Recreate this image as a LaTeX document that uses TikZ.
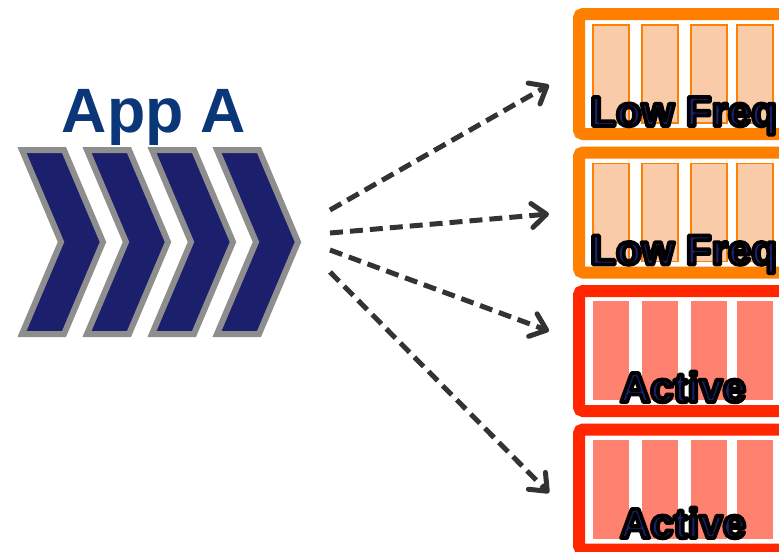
\documentclass[tikz,border=0pt]{standalone}
\usepackage{fontspec}
\setmainfont{Liberation Sans}
\usetikzlibrary{arrows.meta}

\definecolor{chevblue}{HTML}{1C1F6B}
\definecolor{chevgray}{HTML}{8E8E8E}
\definecolor{apptext}{HTML}{0B3778}
\definecolor{lowedge}{HTML}{FF7F00}
\definecolor{lowfill}{HTML}{F9CBA9}
\definecolor{activeedge}{HTML}{FF2600}
\definecolor{activefill}{HTML}{FF8170}
\definecolor{flowgray}{HTML}{333333}

\newcommand{\outlined}[1]{\special{pdf:literal direct 0 0 0 RG 2.8 w 1 j 2 Tr}#1\special{pdf:literal direct 0 Tr}}

\tikzset{
  chevron/.style={draw=chevgray,fill=chevblue,line width=4.5pt},
  slotbox/.style={line width=9pt,rounded corners=3pt},
  lowbar/.style={fill=lowfill,draw=lowedge,line width=0.8pt},
  activebar/.style={fill=activefill},
  flow/.style={draw=flowgray,line width=3.75pt,dash pattern=on 9.75pt off 5.25pt,
    -{Straight Barb[length=11pt,width=18pt,round]}},
  boxlabel/.style={text=chevblue,font=\fontsize{31.5}{32}\selectfont\bfseries,inner sep=0pt}
}

\begin{document}
\begin{tikzpicture}[x=0.75pt,y=-0.75pt]
  \clip (0,0) rectangle (779,551);

  \node[anchor=base,text=apptext,font=\fontsize{47}{48}\selectfont\bfseries,inner sep=0pt]
    (applabel) at (154,132) {App A};

  \foreach \x in {22,87,152,217}
    \draw[chevron] (\x,150) -- ++(42,0) -- ++(39,92) -- ++(-39,92) -- ++(-42,0) -- ++(39,-92) -- cycle;

  % low frequency boxes
  \foreach \top in {8,146.5} {
    \draw[slotbox,draw=lowedge] (579,\top+6) rectangle (830,\top+126);
    \foreach \x in {593,642,691,737}
      \draw[lowbar] (\x,\top+17) rectangle ++(36,98);
  }
  \node[boxlabel,anchor=base west] (low1) at (590,126) {\outlined{Low Freq}};
  \node[boxlabel,anchor=base west] (low2) at (590,264.5) {\outlined{Low Freq}};

  % active boxes
  \foreach \top in {285,423.5} {
    \draw[slotbox,draw=activeedge] (579,\top+6) rectangle (830,\top+126);
    \foreach \x in {593,642,691,737}
      \fill[activebar] (\x,\top+16) rectangle ++(36,99);
  }
  \node[boxlabel,anchor=base] (active1) at (683,402) {\outlined{Active}};
  \node[boxlabel,anchor=base] (active2) at (683,538) {\outlined{Active}};

  \coordinate (src1) at (330,210);
  \coordinate (src2) at (330,233);
  \coordinate (src3) at (330,250);
  \coordinate (src4) at (330,272);
  \coordinate (dst1) at (549,85);
  \coordinate (dst2) at (549,214);
  \coordinate (dst3) at (549,331);
  \coordinate (dst4) at (549,493);

  \draw[flow] (src1) -- (dst1);
  \draw[flow] (src2) -- (dst2);
  \draw[flow] (src3) -- (dst3);
  \draw[flow] (src4) -- (dst4);
\end{tikzpicture}
\end{document}
